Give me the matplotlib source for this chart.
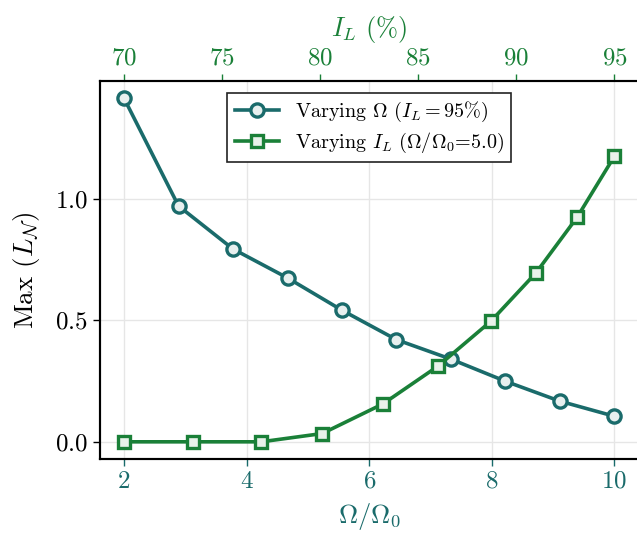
import numpy as np
import matplotlib
matplotlib.use('Agg')
import matplotlib.pyplot as plt

plt.rcParams['font.family'] = 'serif'
plt.rcParams['font.serif'] = ['cmr10']
plt.rcParams['mathtext.fontset'] = 'cm'
plt.rcParams['axes.formatter.use_mathtext'] = True

# Varying Omega at I_L = 95 %
omega = [2.0, 2.889, 3.778, 4.667, 5.556, 6.444, 7.333, 8.222, 9.111, 10.0]
max_ln_omega = [1.413, 0.970, 0.793, 0.674, 0.541, 0.420, 0.340, 0.249, 0.167, 0.105]

# Varying I_L at Omega/Omega_0 = 5
il = [70.0, 73.5, 77.0, 80.1, 83.2, 86.0, 88.7, 91.0, 93.1, 95.0]
max_ln_il = [0.0, 0.0, 0.0, 0.034, 0.156, 0.311, 0.496, 0.695, 0.924, 1.175]

c_omega = '#1a6b6b'
c_il = '#1a8038'

fig = plt.figure(figsize=(6.37, 5.38), dpi=100)
ax = fig.add_axes([99.5 / 637, 79 / 538, 539.5 / 637, 378 / 538])
ax2 = ax.twiny()

l1, = ax.plot(omega, max_ln_omega, '-o', color=c_omega, lw=2.6, ms=9.5,
              mew=2.4, mfc='#e8f0ef', label=r'Varying $\Omega$ ($I_L = 95\%$)')
l2, = ax2.plot(il, max_ln_il, '-s', color=c_il, lw=2.6, ms=9,
               mew=2.4, mfc='#e8f2ea',
               label=r'Varying $I_L$ ($\Omega/\Omega_0$=5.0)')

ax.set_xlim(1.6, 10.4)
ax2.set_xlim(68.75, 96.25)
ax.set_ylim(-0.0707, 1.484)
ax.set_xticks([2, 4, 6, 8, 10])
ax.set_yticks([0.0, 0.5, 1.0])
ax2.set_xticks([70, 75, 80, 85, 90, 95])

ax.grid(True, color='#e6e6e6', lw=1)
ax.set_axisbelow(True)

ax.set_xlabel(r'$\Omega/\Omega_0$', color=c_omega, fontsize=19, labelpad=6)
ax2.set_xlabel(r'$I_L$ (%)', color=c_il, fontsize=19, labelpad=8)
ax.set_ylabel(r'Max ($L_\mathcal{N}$)', fontsize=19.5, labelpad=9)

ax.tick_params(axis='x', colors=c_omega, labelsize=18, length=5, width=1)
ax.tick_params(axis='y', labelsize=18, length=5, width=1)
ax2.tick_params(axis='x', colors=c_il, labelsize=18, length=5, width=1)
for a in (ax, ax2):
    for s in a.spines.values():
        s.set_linewidth(1.5)
        s.set_color('black')

leg = ax.legend(handles=[l1, l2], loc='upper center', fontsize=14.5,
                fancybox=False, framealpha=1, edgecolor='#222222',
                borderaxespad=0.6, handlelength=2.2, borderpad=0.35,
                labelspacing=0.35)
leg.get_frame().set_linewidth(1.2)

fig.savefig('out.png', dpi=100)
